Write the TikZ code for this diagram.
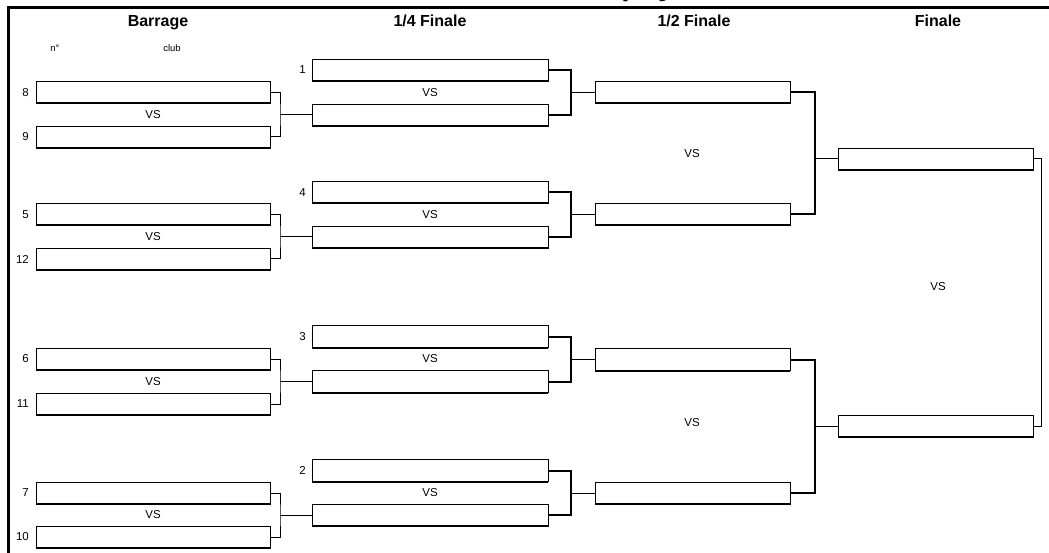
\documentclass[tikz,border=0pt]{standalone}
\usepackage{fontspec}
\setmainfont{Liberation Sans}
\usetikzlibrary{positioning}

\begin{document}
\begin{tikzpicture}[x=1pt,y=-1pt,
    slot/.style={draw, line width=0.9pt, inner sep=0pt, outer sep=0pt, minimum height=22pt,
      append after command={(\tikzlastnode.south west) edge[draw, line width=2pt] (\tikzlastnode.south east)}},
    bar/.style={slot, minimum width=234pt},
    quart/.style={slot, minimum width=236pt},
    semi/.style={slot, minimum width=195pt},
    num/.style={font=\fontsize{11.5}{13}\selectfont, inner sep=0pt},
    vs/.style={font=\fontsize{11.5}{13}\selectfont, inner sep=0pt},
    small/.style={font=\fontsize{9.5}{11}\selectfont, inner sep=0pt, anchor=base},
    head/.style={font=\fontsize{16}{19}\selectfont\bfseries, inner sep=0pt, anchor=base},
    link/.style={line width=1pt},
    linkb/.style={line width=2pt}]
        \useasboundingbox (0,0) rectangle (1049,553);
        \clip (0,0) rectangle (1049,553);

        % frame and title (cut at the top)
        \node[font=\fontsize{30}{36}\selectfont\bfseries, anchor=base, inner sep=0pt] (title) at (530,-4.5) {Tableau final Trophy};
        \draw[line width=2.5pt] (8.5,553) -- (8.5,7.5) -- (1049,7.5);

        % the headers
        \node[head] (hBar) at (158,27) {Barrage};
        \node[head] (hQuart) at (430,27) {1/4 Finale};
        \node[head] (hSemi) at (694,27) {1/2 Finale};
        \node[head] (hFin) at (938,27) {Finale};
        \node[small] (hNum) at (55,52) {n°};
        \node[small] (hClub) at (172,52) {club};

        % barrage
        \node[bar] (b8) at (153,92.5) {};
        \node[bar] (b9) at (153,137) {};
        \node[bar] (b5) at (153,214.5) {};
        \node[bar] (b12) at (153,259) {};
        \node[bar] (b6) at (153,359) {};
        \node[bar] (b11) at (153,404) {};
        \node[bar] (b7) at (153,493) {};
        \node[bar] (b10) at (153,537) {};
        \node[num, left=7pt of b8] (n8) {8};
        \node[num, left=7pt of b9] (n9) {9};
        \node[num, left=7pt of b5] (n5) {5};
        \node[num, left=7pt of b12] (n12) {12};
        \node[num, left=7pt of b6] (n6) {6};
        \node[num, left=7pt of b11] (n11) {11};
        \node[num, left=7pt of b7] (n7) {7};
        \node[num, left=7pt of b10] (n10) {10};
        \node[vs] (vsB1) at (153,115) {VS};
        \node[vs] (vsB2) at (153,237) {VS};
        \node[vs] (vsB3) at (153,381.5) {VS};
        \node[vs] (vsB4) at (153,515) {VS};

        % quarter finals
        \node[quart] (q1) at (430,70) {};
        \node[quart] (q1b) at (430,115) {};
        \node[quart] (q4) at (430,192.5) {};
        \node[quart] (q4b) at (430,237) {};
        \node[quart] (q3) at (430,336.5) {};
        \node[quart] (q3b) at (430,381.5) {};
        \node[quart] (q2) at (430,470.5) {};
        \node[quart] (q2b) at (430,515) {};
        \node[num, left=6pt of q1] (n1) {1};
        \node[num, left=6pt of q4] (n4) {4};
        \node[num, left=6pt of q3] (n3) {3};
        \node[num, left=6pt of q2] (n2) {2};
        \node[vs] (vsQ1) at (430,92.5) {VS};
        \node[vs] (vsQ2) at (430,214.5) {VS};
        \node[vs] (vsQ3) at (430,359) {VS};
        \node[vs] (vsQ4) at (430,493) {VS};

        % semi finals and final
        \node[semi] (s1) at (692.5,92.5) {};
        \node[semi] (s2) at (692.5,214.5) {};
        \node[semi] (s3) at (692.5,359.5) {};
        \node[semi] (s4) at (692.5,493) {};
        \node[vs] (vsS1) at (692,154) {VS};
        \node[vs] (vsS2) at (692,423) {VS};
        \node[semi] (f1) at (935.5,159) {};
        \node[semi] (f2) at (935.5,426) {};
        \node[vs] (vsF) at (938,287) {VS};

        % junction points of the brackets
        \coordinate (jb1) at (280,115);
        \coordinate (jb2) at (280,237);
        \coordinate (jb3) at (280,381.5);
        \coordinate (jb4) at (280,515);
        \coordinate (jq1) at (571,92.5);
        \coordinate (jq2) at (571,214.5);
        \coordinate (jq3) at (571,359.5);
        \coordinate (jq4) at (571,493);
        \coordinate (js1) at (815,159);
        \coordinate (js2) at (815,426);
        \coordinate (jf) at (1041,292);

        % draw the brackets
        \draw[link] (b8.east) -| (jb1) |- (b9.east);
        \draw[link] (jb1) -- (q1b.west);
        \draw[link] (b5.east) -| (jb2) |- (b12.east);
        \draw[link] (jb2) -- (q4b.west);
        \draw[link] (b6.east) -| (jb3) |- (b11.east);
        \draw[link] (jb3) -- (q3b.west);
        \draw[link] (b7.east) -| (jb4) |- (b10.east);
        \draw[link] (jb4) -- (q2b.west);
        \draw[linkb] (q1.east) -| (jq1) |- (q1b.east);
        \draw[link] (jq1) -- (s1.west);
        \draw[linkb] (q4.east) -| (jq2) |- (q4b.east);
        \draw[link] (jq2) -- (s2.west);
        \draw[linkb] (q3.east) -| (jq3) |- (q3b.east);
        \draw[link] (jq3) -- (s3.west);
        \draw[linkb] (q2.east) -| (jq4) |- (q2b.east);
        \draw[link] (jq4) -- (s4.west);
        \draw[linkb] (s1.east) -| (js1) |- (s2.east);
        \draw[link] (js1) -- (f1.west);
        \draw[linkb] (s3.east) -| (js2) |- (s4.east);
        \draw[link] (js2) -- (f2.west);
        \draw[link] (f1.east) -| (jf) |- (f2.east);
\end{tikzpicture}
\end{document}
